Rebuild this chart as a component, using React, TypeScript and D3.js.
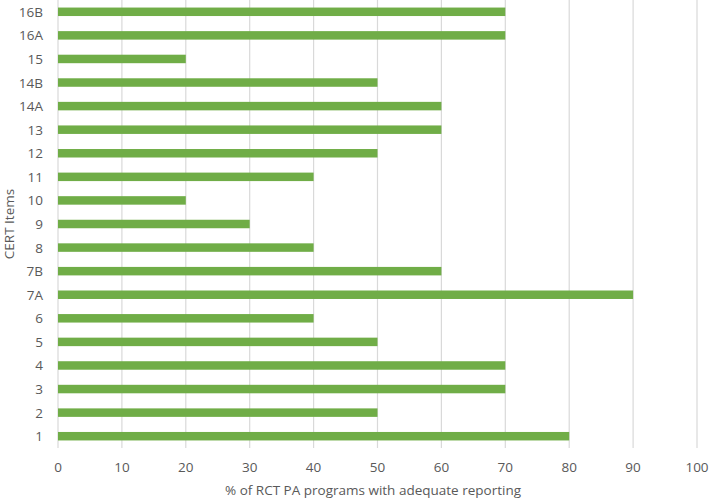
import React from "react";
import * as d3 from "d3";

const categories = ["1", "2", "3", "4", "5", "6", "7A", "7B", "8", "9", "10", "11", "12", "13", "14A", "14B", "15", "16A", "16B"];
const values = [80, 50, 70, 70, 50, 40, 90, 60, 40, 30, 20, 40, 50, 60, 60, 50, 20, 70, 70];
const xTicks = [0, 10, 20, 30, 40, 50, 60, 70, 80, 90, 100];

const W = 709, H = 501;
const left = 58, right = 697, top = 0, bottom = 448;
const font = "'Open Sans', 'Liberation Sans', sans-serif";
const fs = 13.5;

export default function App() {
  const x = d3.scaleLinear().domain([0, 100]).range([left, right]);
  const y = d3.scaleBand().domain([...categories].reverse()).range([top, bottom]).paddingInner(0.64).paddingOuter(0.32);
  return (
    <svg width={W} height={H} style={{ position: "absolute", left: 0, top: 0, background: "#fff" }}>
      {xTicks.map((t) => (
        <line key={"g" + t} x1={x(t)} x2={x(t)} y1={top} y2={bottom} stroke="#d9d9d9" strokeWidth={1.2} />
      ))}
      {categories.map((c, i) => (
        <rect key={c} x={x(0)} y={y(c)} width={x(values[i]) - x(0)} height={y.bandwidth()} fill="#70ad47" />
      ))}
      {categories.map((c) => (
        <text key={"l" + c} x={43} y={(y(c) as number) + y.bandwidth() / 2} textAnchor="end" dominantBaseline="central" fontFamily={font} fontSize={fs} fill="#595959">{c}</text>
      ))}
      {xTicks.map((t) => (
        <text key={"t" + t} x={x(t)} y={467} textAnchor="middle" dominantBaseline="central" fontFamily={font} fontSize={fs} fill="#595959">{t}</text>
      ))}
      <text x={373} y={490} textAnchor="middle" dominantBaseline="central" fontFamily={font} fontSize={fs} fill="#595959">% of RCT PA programs with adequate reporting</text>
      <text transform={`translate(9,${(top + bottom) / 2}) rotate(-90)`} textAnchor="middle" dominantBaseline="central" fontFamily={font} fontSize={fs} fill="#595959">CERT Items</text>
    </svg>
  );
}
